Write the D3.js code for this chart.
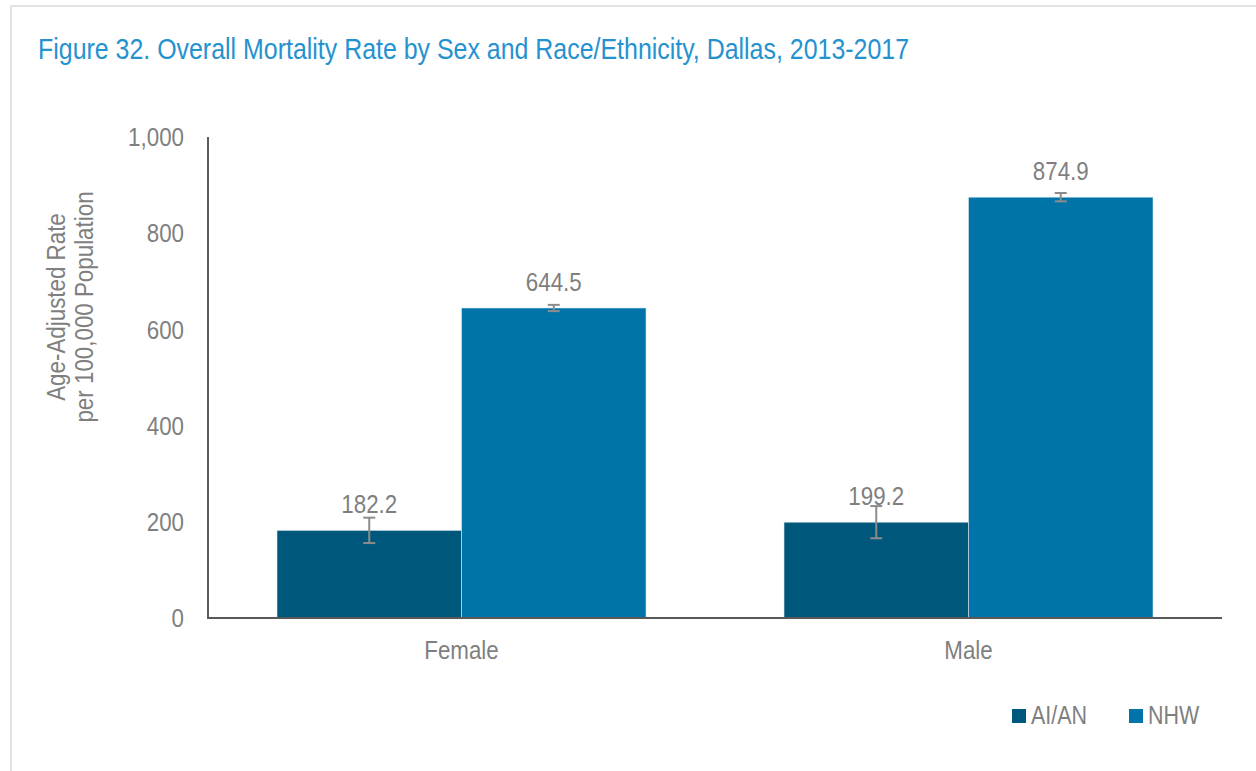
<!DOCTYPE html>
<html>
<head>
<meta charset="utf-8">
<script src="https://cdn.jsdelivr.net/npm/d3@7"></script>
<style>
  body { margin: 0; background: #fff; }
  svg { display: block; font-family: "Liberation Sans Narrow", "Liberation Sans", Arial, sans-serif; }
</style>
</head>
<body>
<div id="chart"></div>
<script>
// data
const categories = ["Female", "Male"];
const series = ["AI/AN", "NHW"];
const values = [[182.2, 644.5], [199.2, 874.9]];   // [category][series]
const lower  = [[155.8, 638.0], [165.8, 866.2]];
const upper  = [[208.6, 651.0], [232.7, 883.6]];
const yTicks = [0, 200, 400, 600, 800, 1000];
const colors = ["#00577c", "#0073a8"];

const W = 1256, H = 771;
const NARROW = 0.86; // no condensed font installed, so squeeze text horizontally
const svg = d3.select("#chart").append("svg").attr("width", W).attr("height", H);

function at(x, y) { return `translate(${x},${y}) scale(${NARROW},1)`; }

// frame (light border on left and top)
svg.append("path")
  .attr("d", "M11,771 V6 H1256")
  .attr("fill", "none").attr("stroke", "#e2e2e2").attr("stroke-width", 2);

// title
svg.append("text")
  .attr("transform", at(38, 59))
  .attr("fill", "#2592d0")
  .style("font-size", "29px")
  .text("Figure 32. Overall Mortality Rate by Sex and Race/Ethnicity, Dallas, 2013-2017");

// scales
const x0 = d3.scaleBand().domain(categories).range([208, 1222]).padding(0);
const x1 = d3.scaleBand().domain(series).range([0, x0.bandwidth()]).paddingInner(0).paddingOuter(0.374);
const y = d3.scaleLinear().domain([0, 1000]).range([618, 137]);

// y tick labels
svg.append("g").selectAll("text").data(yTicks).join("text")
  .attr("transform", d => at(184, y(d)))
  .attr("dy", "0.35em")
  .attr("text-anchor", "end")
  .attr("fill", "#7f7f7f")
  .style("font-size", "26px")
  .text(d => d3.format(",")(d));

// y axis title
const yt = svg.append("text")
  .attr("transform", `translate(65,307) rotate(-90) scale(${NARROW},1)`)
  .attr("text-anchor", "middle")
  .attr("fill", "#7f7f7f")
  .style("font-size", "26px");
yt.append("tspan").attr("x", 0).attr("y", 0).text("Age-Adjusted Rate");
yt.append("tspan").attr("x", 0).attr("y", 28).text("per 100,000 Population");

// bars
const groups = svg.append("g").selectAll("g").data(categories).join("g")
  .attr("transform", d => `translate(${x0(d)},0)`);

const rows = (c, i) => series.map((s, j) => ({ s, j, v: values[i][j], lo: lower[i][j], hi: upper[i][j] }));

groups.selectAll("rect")
  .data(rows)
  .join("rect")
  .attr("x", d => x1(d.s))
  .attr("y", d => y(d.v))
  .attr("width", x1.bandwidth())
  .attr("height", d => y(0) - y(d.v))
  .attr("fill", d => colors[d.j])
  .attr("stroke", "#d9e6ee").attr("stroke-width", 0.6);

// error bars
const cx = d => x1(d.s) + x1.bandwidth() / 2;
const eb = groups.selectAll("g.err")
  .data(rows)
  .join("g").attr("class", "err")
  .attr("stroke", "#8c8c8c").attr("stroke-width", 2);
eb.append("line")
  .attr("x1", cx).attr("x2", cx)
  .attr("y1", d => y(d.hi)).attr("y2", d => y(d.lo));
eb.append("line")
  .attr("x1", d => cx(d) - 6).attr("x2", d => cx(d) + 6)
  .attr("y1", d => y(d.hi)).attr("y2", d => y(d.hi));
eb.append("line")
  .attr("x1", d => cx(d) - 6).attr("x2", d => cx(d) + 6)
  .attr("y1", d => y(d.lo)).attr("y2", d => y(d.lo));

// value labels
groups.selectAll("text.val")
  .data(rows)
  .join("text").attr("class", "val")
  .attr("transform", d => at(cx(d), y(d.v) - 17))
  .attr("text-anchor", "middle")
  .attr("fill", "#7f7f7f")
  .style("font-size", "26px")
  .text(d => d3.format(".1f")(d.v));

// axes lines
svg.append("line").attr("x1", 208).attr("x2", 208).attr("y1", y(1000)).attr("y2", y(0))
  .attr("stroke", "#262626").attr("stroke-width", 1.5);
svg.append("line").attr("x1", 207).attr("x2", 1222).attr("y1", y(0)).attr("y2", y(0))
  .attr("stroke", "#595959").attr("stroke-width", 2);

// category labels
svg.append("g").selectAll("text").data(categories).join("text")
  .attr("transform", d => at(x0(d) + x0.bandwidth() / 2, 659))
  .attr("text-anchor", "middle")
  .attr("fill", "#7f7f7f")
  .style("font-size", "26px")
  .text(d => d);

// legend
const legX = [1012, 1129];
const leg = svg.append("g").selectAll("g").data(series).join("g")
  .attr("transform", (d, i) => `translate(${legX[i]},709)`);
leg.append("rect").attr("width", 14).attr("height", 14).attr("fill", (d, i) => colors[i]);
leg.append("text").attr("transform", at(19, 14.5))
  .attr("fill", "#7f7f7f").style("font-size", "25px").text(d => d);
</script>
</body>
</html>
